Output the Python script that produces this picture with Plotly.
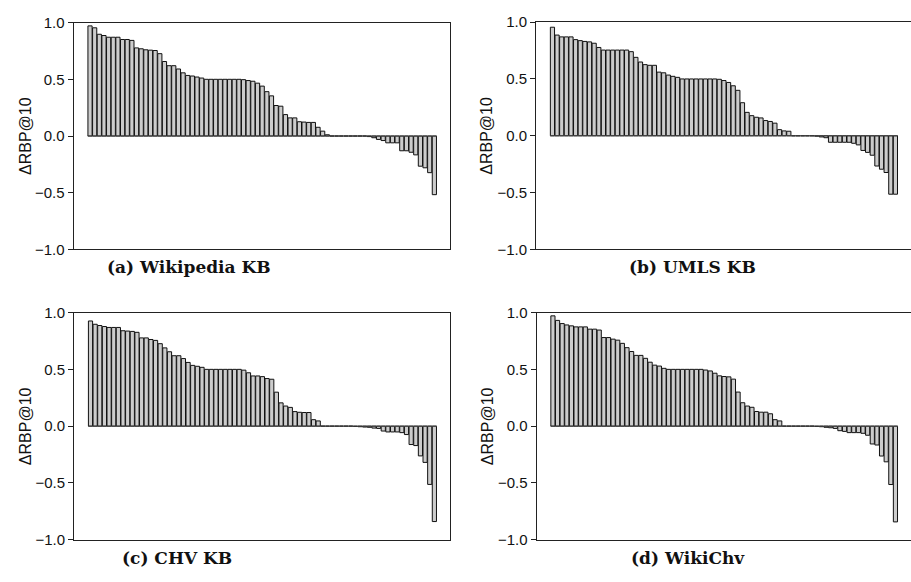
import plotly.graph_objects as go

W, H = 911, 582

wiki_kb = [0.971, 0.954, 0.897, 0.886, 0.871, 0.871, 0.871, 0.851, 0.851, 0.843,
           0.777, 0.769, 0.760, 0.757, 0.754, 0.726, 0.657, 0.620, 0.620, 0.591,
           0.557, 0.534, 0.529, 0.520, 0.511, 0.500, 0.500, 0.500, 0.500, 0.500,
           0.500, 0.500, 0.500, 0.497, 0.489, 0.483, 0.466, 0.440, 0.391, 0.354,
           0.269, 0.263, 0.189, 0.160, 0.160, 0.126, 0.123, 0.120, 0.120, 0.077,
           0.043, 0.011, 0.0, 0.0, 0.0, 0.0, 0.0, 0.0, 0.0, 0.0,
           -0.005, -0.015, -0.030, -0.040, -0.060, -0.060, -0.060, -0.130, -0.130, -0.143,
           -0.166, -0.266, -0.280, -0.323, -0.517]

umls_kb = [0.955, 0.886, 0.870, 0.870, 0.870, 0.846, 0.837, 0.830, 0.826, 0.814,
           0.777, 0.754, 0.754, 0.754, 0.754, 0.754, 0.754, 0.740, 0.690, 0.649,
           0.626, 0.620, 0.620, 0.560, 0.554, 0.534, 0.523, 0.514, 0.500, 0.500,
           0.500, 0.500, 0.500, 0.500, 0.500, 0.500, 0.497, 0.486, 0.469, 0.440,
           0.400, 0.291, 0.206, 0.177, 0.163, 0.157, 0.134, 0.126, 0.111, 0.054,
           0.043, 0.040, 0.0, 0.0, 0.0, 0.0, 0.0, -0.003, -0.010, -0.017,
           -0.057, -0.057, -0.057, -0.057, -0.057, -0.066, -0.080, -0.129, -0.146, -0.171,
           -0.266, -0.294, -0.323, -0.514, -0.514]

chv_kb = [0.926, 0.897, 0.886, 0.877, 0.869, 0.869, 0.869, 0.840, 0.837, 0.834,
          0.826, 0.777, 0.777, 0.763, 0.755, 0.726, 0.689, 0.655, 0.620, 0.620,
          0.595, 0.561, 0.535, 0.527, 0.518, 0.500, 0.500, 0.500, 0.500, 0.500,
          0.500, 0.500, 0.500, 0.493, 0.470, 0.442, 0.442, 0.436, 0.419, 0.413,
          0.299, 0.205, 0.177, 0.165, 0.128, 0.122, 0.120, 0.120, 0.057, 0.046,
          0.0, 0.0, 0.0, 0.0, 0.0, 0.0, 0.0, -0.003, -0.005, -0.008,
          -0.010, -0.017, -0.020, -0.043, -0.051, -0.051, -0.051, -0.057, -0.074, -0.162,
          -0.171, -0.262, -0.319, -0.513, -0.840]

wikichv = [0.971, 0.931, 0.903, 0.891, 0.883, 0.874, 0.874, 0.874, 0.854, 0.854,
           0.846, 0.780, 0.780, 0.766, 0.757, 0.729, 0.691, 0.657, 0.623, 0.623,
           0.597, 0.563, 0.537, 0.529, 0.509, 0.500, 0.500, 0.500, 0.500, 0.500,
           0.500, 0.500, 0.500, 0.494, 0.486, 0.466, 0.443, 0.437, 0.434, 0.414,
           0.300, 0.206, 0.177, 0.166, 0.129, 0.123, 0.123, 0.109, 0.057, 0.046,
           0.0, 0.0, 0.0, 0.0, 0.0, 0.0, 0.0, -0.003, -0.005, -0.010,
           -0.014, -0.020, -0.040, -0.046, -0.057, -0.057, -0.057, -0.063, -0.080, -0.157,
           -0.166, -0.263, -0.314, -0.514, -0.843]

series = [wiki_kb, umls_kb, chv_kb, wikichv]
captions = ["(a) Wikipedia KB", "(b) UMLS KB", "(c) CHV KB", "(d) WikiChv"]
y_title = "ΔRBP@10"
y_tickvals = [-1.0, -0.5, 0.0, 0.5, 1.0]
y_ticktext = ["−1.0", "−0.5", "0.0", "0.5", "1.0"]

# panel boxes in pixels: (left, right, top, bottom)
boxes = [(73.5, 450.0, 14.0, 247.7), (536.0, 912.0, 13.5, 247.7),
         (74.0, 450.0, 312.7, 546.7), (536.5, 912.5, 312.7, 546.7)]
cap_pos = [(189, 266), (692, 266), (177, 566), (688, 566)]
title_x = [25, 487, 25, 487]

fig = go.Figure()
line_col = "#222222"
for k, vals in enumerate(series):
    n = len(vals)
    xa = "x" if k == 0 else f"x{k+1}"
    ya = "y" if k == 0 else f"y{k+1}"
    fig.add_trace(go.Bar(x=list(range(n)), y=vals, xaxis=xa, yaxis=ya,
                         marker=dict(color="#cccccc", line=dict(color="#111111", width=1)),
                         showlegend=False, hoverinfo="y"))
    l, r, t, b = boxes[k]
    xkey = "xaxis" if k == 0 else f"xaxis{k+1}"
    ykey = "yaxis" if k == 0 else f"yaxis{k+1}"
    fig.layout[xkey] = dict(domain=[l / W, min(r / W, 1.0)], range=[-3.55, n + 2.36],
                            showticklabels=False, ticks="", showgrid=False, zeroline=False,
                            showline=True, mirror=True, linecolor=line_col, linewidth=1,
                            anchor=ya, fixedrange=True)
    fig.layout[ykey] = dict(domain=[1 - b / H, 1 - t / H], range=[-1.0, 1.0],
                            tickvals=y_tickvals, ticktext=y_ticktext, ticks="outside",
                            ticklen=5, tickcolor=line_col, tickwidth=1,
                            showgrid=False, zeroline=False, showline=True,
                            mirror=(k % 2 == 0), linecolor=line_col, linewidth=1,
                            tickfont=dict(family="Liberation Sans, Arial", size=15, color="#111"),
                            anchor=xa, fixedrange=True)
    # baseline along the bars
    fig.add_shape(type="line", xref=xa, yref=ya, x0=-0.5, x1=n - 0.5, y0=0, y1=0,
                  line=dict(color="#444444", width=1))
    fig.add_annotation(text=y_title, xref="paper", yref="paper",
                       x=title_x[k] / W, y=1 - ((t + b) / 2) / H, textangle=-90,
                       showarrow=False, xanchor="center", yanchor="middle",
                       font=dict(family="Liberation Sans, Arial", size=16, color="#111"))
    cx, cy = cap_pos[k]
    fig.add_annotation(text="<b>" + captions[k] + "</b>", xref="paper", yref="paper",
                       x=cx / W, y=1 - cy / H, showarrow=False,
                       xanchor="center", yanchor="middle",
                       font=dict(family="DejaVu Serif", size=17, color="#111"))

fig.update_layout(width=W, height=H, margin=dict(l=0, r=0, t=0, b=0), autosize=False,
                  paper_bgcolor="white", plot_bgcolor="white", bargap=0.1,
                  hovermode=False)
fig.write_html("out.html", config={"displayModeBar": False, "staticPlot": True},
               post_script="document.body.style.margin='0';document.body.style.padding='0';"
                           "document.documentElement.style.overflow='hidden';")
